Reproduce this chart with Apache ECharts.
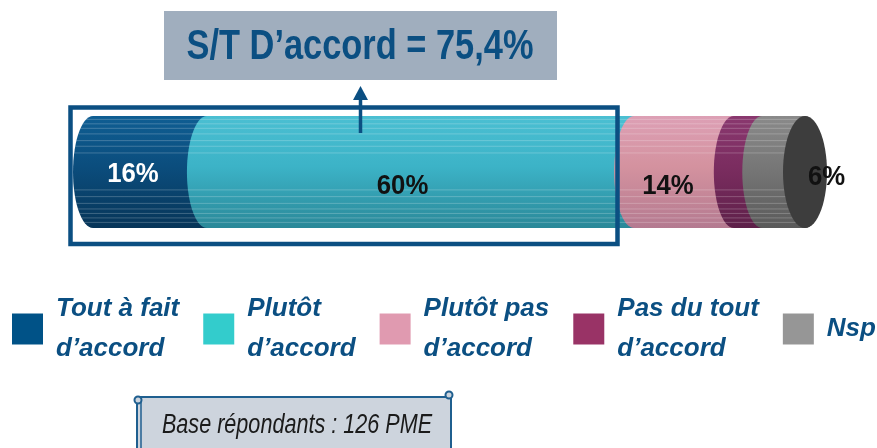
<!DOCTYPE html>
<html>
<head>
<meta charset="utf-8">
<script src="https://cdn.jsdelivr.net/npm/echarts@6/dist/echarts.min.js"></script>
<style>
  html, body { margin: 0; padding: 0; background: #fff; }
  #chart { width: 877px; height: 448px; }
</style>
</head>
<body>
<div id="chart"></div>
<script>
// data
const categories = ["Tout à fait\nd’accord", "Plutôt\nd’accord", "Plutôt pas\nd’accord", "Pas du tout\nd’accord", "Nsp"];
const values = [16, 60, 14, 4, 6];
const valueLabels = ["16%", "60%", "14%", "4%", "6%"];
const titleText = "S/T D’accord = 75,4%";
const baseText = "Base répondants : 126 PME";

// styles
const legendColors = ["#005287", "#33cccc", "#e09ab0", "#993366", "#969696"];
const bodyColors = [
  ["#0f5e93", "#0b4d7d", "#073558"],
  ["#4bbfd2", "#3cb3c7", "#2a8898"],
  ["#dda0b5", "#d4929f", "#b47a90"],
  ["#8a386f", "#7b2d60", "#5e2049"],
  ["#8a8a8a", "#777777", "#5a5a5a"]
];
const labelColors = ["#ffffff", "#111111", "#111111", "#ffffff", "#111111"];
const labelShift = [[-17, 2], [-18, 14], [-16, 14], [14, 9], [43, 5]];
const stripeFractions = [0.03, 0.07, 0.11, 0.16, 0.22, 0.27, 0.33, 0.66, 0.72, 0.78, 0.83, 0.87, 0.91, 0.95];
const navy = "#0b4f82";
const sans = "'Liberation Sans', Arial, sans-serif";

const starts = [];
values.reduce((acc, v, i) => { starts[i] = acc; return acc + v; }, 0);

function ellipsePoints(cx, cy, rx, ry, a0, a1, n) {
  const pts = [];
  for (let k = 0; k <= n; k++) {
    const t = a0 + (a1 - a0) * k / n;
    pts.push([cx + rx * Math.cos(t), cy - ry * Math.sin(t)]);
  }
  return pts;
}

function cylinderItem(idx) {
  return function (params, api) {
    const xs = api.coord([api.value(0), 0])[0];
    const xe = api.coord([api.value(1), 0])[0];
    const cy = api.coord([api.value(0), 0])[1];
    const ry = api.size([0, 1])[1] / 2;
    const rx = 20;
    const pts = ellipsePoints(xs, cy, rx, ry, Math.PI / 2, Math.PI * 1.5, 30)
      .concat(ellipsePoints(xe, cy, rx, ry, -Math.PI / 2, Math.PI / 2, 30));
    const c = bodyColors[idx];
    const children = [{
      type: "polygon",
      shape: { points: pts },
      style: {
        fill: new echarts.graphic.LinearGradient(0, 0, 0, 1, [
          { offset: 0, color: c[0] },
          { offset: 0.45, color: c[1] },
          { offset: 1, color: c[2] }
        ])
      }
    }];
    stripeFractions.forEach((f) => {
      const y = cy - ry + 2 * ry * f;
      const dy = (y - cy) / ry;
      const dx = rx * Math.sqrt(Math.max(0, 1 - dy * dy));
      children.push({
        type: "line",
        shape: { x1: xs - dx, y1: y, x2: xe + dx * 0.3, y2: y },
        style: { stroke: "rgba(255,255,255,0.22)", lineWidth: 1 }
      });
    });
    if (idx === values.length - 1) {
      children.push({
        type: "polygon",
        shape: { points: ellipsePoints(xe, cy, 22, ry, 0, Math.PI * 2, 60) },
        style: { fill: "#3d3d3d" }
      });
    }
    children.push({
      type: "text",
      x: (xs + xe) / 2 + labelShift[idx][0],
      y: cy + labelShift[idx][1],
      scaleX: 0.92,
      style: {
        text: valueLabels[idx],
        fill: labelColors[idx],
        font: "bold 28px " + sans,
        align: "center",
        verticalAlign: "middle"
      }
    });
    return { type: "group", children: children };
  };
}

const series = categories.map((name, i) => ({
  type: "custom",
  name: name,
  itemStyle: { color: legendColors[i] },
  renderItem: cylinderItem(i),
  encode: { x: [0, 1], y: 2 },
  data: [[starts[i], starts[i] + values[i], 0]],
  silent: true,
  z: 2 + i
}));

const chart = echarts.init(document.getElementById("chart"), null, { renderer: "canvas" });

chart.setOption({
  animation: false,
  backgroundColor: "#ffffff",
  grid: { left: 93, right: 72, top: 116, height: 112 },
  xAxis: { type: "value", min: 0, max: 100, show: false },
  yAxis: { type: "category", data: ["PME"], show: false },
  legend: {
    left: 7,
    top: 284,
    width: 870,
    icon: "rect",
    itemWidth: 31,
    itemHeight: 31,
    itemGap: 24,
    selectedMode: false,
    data: categories,
    textStyle: {
      fontFamily: sans,
      fontSize: 26,
      fontStyle: "italic",
      fontWeight: "bold",
      color: navy,
      lineHeight: 40,
      padding: [0, 0, 0, 8]
    }
  },
  graphic: [
    {
      type: "rect",
      shape: { x: 164, y: 11, width: 393, height: 69 },
      style: { fill: "#a0aebe" }
    },
    {
      type: "text",
      x: 360, y: 47,
      scaleX: 0.8,
      style: {
        text: titleText,
        font: "bold 43px " + sans,
        fill: navy,
        align: "center",
        verticalAlign: "middle"
      }
    },
    {
      type: "rect",
      z: 100,
      shape: { x: 70.5, y: 107.5, width: 547, height: 136.5 },
      style: { fill: null, stroke: navy, lineWidth: 4.5 }
    },
    {
      type: "line",
      z: 100,
      shape: { x1: 360.5, y1: 97, x2: 360.5, y2: 133 },
      style: { stroke: navy, lineWidth: 3.5 }
    },
    {
      type: "polygon",
      z: 100,
      shape: { points: [[360.5, 86], [353, 100], [368, 100]] },
      style: { fill: navy }
    },
    {
      type: "rect",
      shape: { x: 137, y: 397, width: 314, height: 60 },
      style: { fill: "#cdd4dd", stroke: "#1f5f8f", lineWidth: 2 }
    },
    {
      type: "line",
      shape: { x1: 141, y1: 399, x2: 141, y2: 448 },
      style: { stroke: "#1f5f8f", lineWidth: 1.5 }
    },
    {
      type: "circle",
      shape: { cx: 138, cy: 400, r: 3.5 },
      style: { fill: "#cdd4dd", stroke: "#1f5f8f", lineWidth: 2 }
    },
    {
      type: "circle",
      shape: { cx: 449, cy: 395, r: 3.5 },
      style: { fill: "#cdd4dd", stroke: "#1f5f8f", lineWidth: 2 }
    },
    {
      type: "text",
      x: 297, y: 425,
      scaleX: 0.8,
      style: {
        text: baseText,
        font: "italic 27px " + sans,
        fill: "#1a1a1a",
        align: "center",
        verticalAlign: "middle"
      }
    }
  ],
  series: series
});
</script>
</body>
</html>
